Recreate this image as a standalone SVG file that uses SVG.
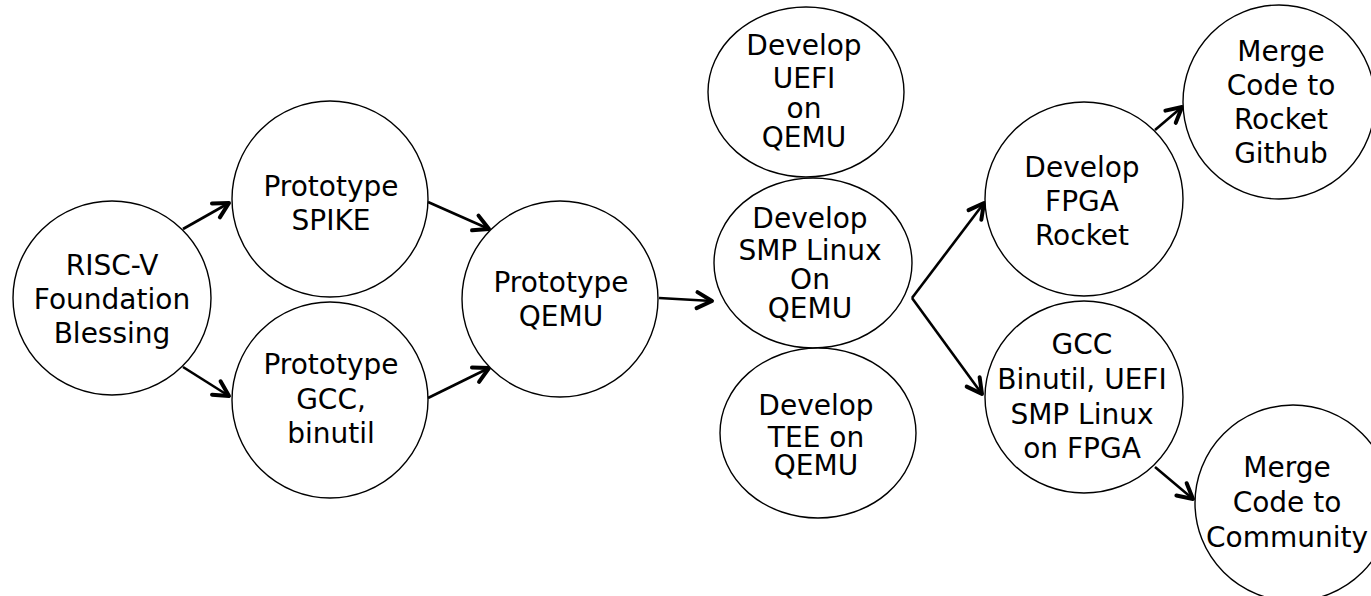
<svg xmlns="http://www.w3.org/2000/svg" width="1371" height="596" viewBox="0 0 1371 596">
<style>
.n ellipse{fill:#fff;stroke:#000;stroke-width:1.4}
.n text{font-family:"DejaVu Sans","Noto Sans CJK JP",sans-serif;font-size:28px;text-anchor:middle;fill:#000}
#edges line{stroke:#000;stroke-width:2.6;marker-end:url(#ah)}
</style>
<defs>
<marker id="ah" markerUnits="userSpaceOnUse" viewBox="-20 -12 24 24" markerWidth="24" markerHeight="24" refX="0" refY="0" orient="auto" overflow="visible">
<path d="M-15,-8 L0,0 L-15,8" fill="none" stroke="#000" stroke-width="4" stroke-linecap="round" stroke-linejoin="round"/>
</marker>
</defs>
<rect width="1371" height="596" fill="#fff"/>
<g id="edges">
<line x1="183" y1="229" x2="229" y2="203"/>
<line x1="183" y1="367" x2="229" y2="396"/>
<line x1="428" y1="202" x2="489" y2="229"/>
<line x1="428" y1="398" x2="489" y2="368"/>
<line x1="659" y1="298" x2="712" y2="301"/>
<line x1="912" y1="298" x2="984" y2="203"/>
<line x1="912" y1="298" x2="982" y2="394"/>
<line x1="1155" y1="130" x2="1182" y2="107"/>
<line x1="1155" y1="467" x2="1193" y2="499"/>
</g>
<g id="n1" class="n"><ellipse cx="112" cy="298" rx="99" ry="97"/><text x="112" y="275">RISC-V</text><text x="112" y="309">Foundation</text><text x="112" y="343">Blessing</text></g>
<g id="n2" class="n"><ellipse cx="330" cy="199" rx="98" ry="98"/><text x="331" y="196">Prototype</text><text x="331" y="230">SPIKE</text></g>
<g id="n3" class="n"><ellipse cx="330" cy="400" rx="98" ry="98"/><text x="331" y="374">Prototype</text><text x="331" y="409">GCC,</text><text x="331" y="443">binutil</text></g>
<g id="n4" class="n"><ellipse cx="560" cy="299" rx="98" ry="98"/><text x="561" y="292">Prototype</text><text x="561" y="326">QEMU</text></g>
<g id="n5" class="n"><ellipse cx="806" cy="92" rx="98" ry="85"/><text x="804" y="55">Develop</text><text x="804" y="88">UEFI</text><text x="804" y="118">on</text><text x="804" y="147">QEMU</text></g>
<g id="n6" class="n"><ellipse cx="813" cy="263" rx="99" ry="85"/><text x="810" y="228">Develop</text><text x="810" y="260">SMP Linux</text><text x="810" y="289">On</text><text x="810" y="318">QEMU</text></g>
<g id="n7" class="n"><ellipse cx="818" cy="433" rx="98" ry="85"/><text x="816" y="415">Develop</text><text x="816" y="447">TEE on</text><text x="816" y="475">QEMU</text></g>
<g id="n8" class="n"><ellipse cx="1084" cy="199" rx="99" ry="97"/><text x="1082" y="177">Develop</text><text x="1082" y="211">FPGA</text><text x="1082" y="245">Rocket</text></g>
<g id="n9" class="n"><ellipse cx="1279" cy="102" rx="96" ry="97"/><text x="1281" y="61">Merge</text><text x="1281" y="95">Code to</text><text x="1281" y="129">Rocket</text><text x="1281" y="163">Github</text></g>
<g id="n10" class="n"><ellipse cx="1084" cy="397" rx="99" ry="96"/><text x="1082" y="354">GCC</text><text x="1082" y="389">Binutil, UEFI</text><text x="1082" y="424">SMP Linux</text><text x="1082" y="458">on FPGA</text></g>
<g id="n11" class="n"><ellipse cx="1293" cy="503" rx="98" ry="98"/><text x="1287" y="477">Merge</text><text x="1287" y="512">Code to</text><text x="1287" y="547">Community</text></g>
</svg>
